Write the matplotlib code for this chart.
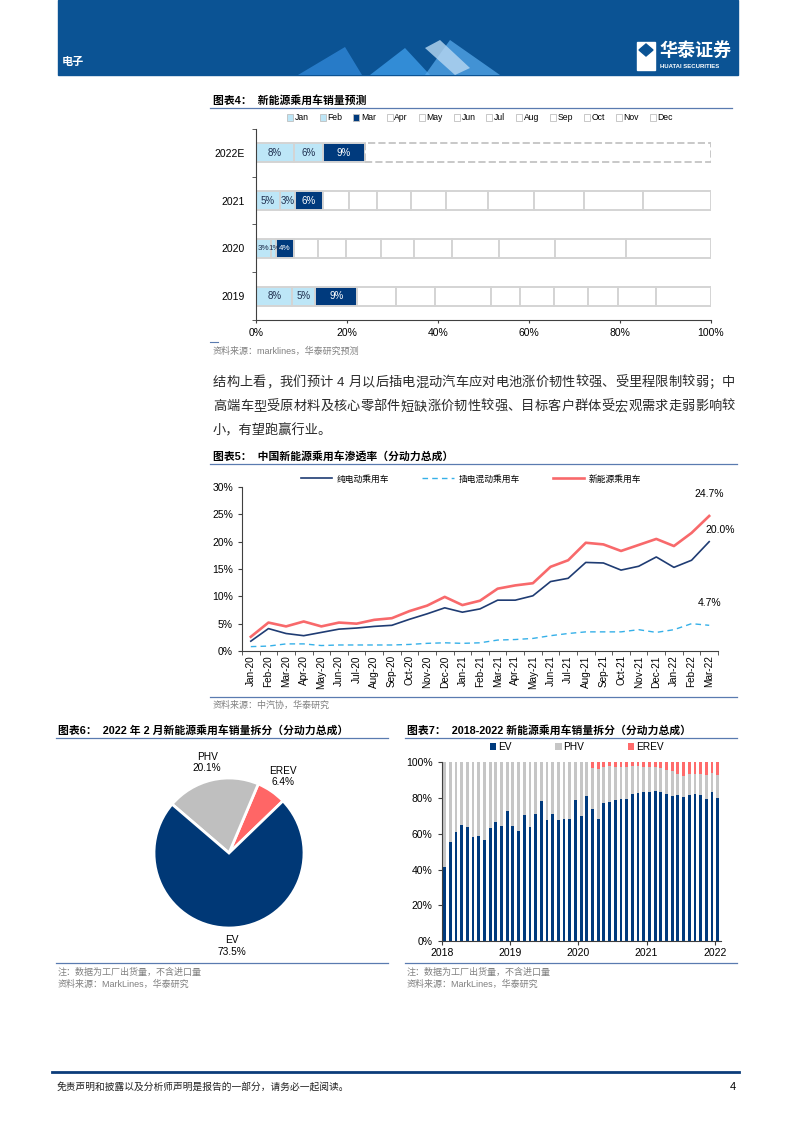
import matplotlib
matplotlib.use('Agg')
import matplotlib.pyplot as plt
from matplotlib.patches import Rectangle, Polygon, Patch
from matplotlib.lines import Line2D
from matplotlib.ticker import FuncFormatter
import numpy as np

plt.rcParams['font.family'] = ['Liberation Sans', 'Noto Sans CJK SC', 'DejaVu Sans']

# ============================================================
# 图表4: 新能源乘用车销量预测 (各月占全年比例, %)
years4 = ['2019', '2020', '2021', '2022E']
months = ['Jan', 'Feb', 'Mar', 'Apr', 'May', 'Jun', 'Jul', 'Aug', 'Sep', 'Oct', 'Nov', 'Dec']
share_2019 = [8.0, 5.0, 9.3, 8.5, 8.6, 12.3, 6.3, 7.6, 7.4, 6.6, 8.4, 12.0]
share_2020 = [3.4, 1.1, 3.8, 5.3, 6.2, 7.6, 7.4, 8.3, 10.3, 12.4, 15.6, 18.6]
share_2021 = [5.3, 3.2, 6.3, 5.7, 6.2, 7.3, 7.7, 9.2, 10.3, 10.9, 12.9, 15.0]
share_2022e = [8.4, 6.4, 9.1]

# 图表5: 中国新能源乘用车渗透率 (%)
months5 = ['Jan-20', 'Feb-20', 'Mar-20', 'Apr-20', 'May-20', 'Jun-20', 'Jul-20', 'Aug-20', 'Sep-20',
           'Oct-20', 'Nov-20', 'Dec-20', 'Jan-21', 'Feb-21', 'Mar-21', 'Apr-21', 'May-21', 'Jun-21',
           'Jul-21', 'Aug-21', 'Sep-21', 'Oct-21', 'Nov-21', 'Dec-21', 'Jan-22', 'Feb-22', 'Mar-22']
bev_pen = [1.8, 4.1, 3.2, 2.8, 3.4, 4.0, 4.2, 4.5, 4.7, 5.8, 6.8, 7.9, 7.1, 7.7, 9.3, 9.3, 10.1, 12.7,
           13.3, 16.2, 16.1, 14.8, 15.5, 17.2, 15.3, 16.6, 20.0]
phev_pen = [0.8, 0.9, 1.3, 1.3, 1.0, 1.1, 1.1, 1.1, 1.1, 1.2, 1.4, 1.5, 1.4, 1.5, 2.0, 2.1, 2.3, 2.8,
            3.2, 3.5, 3.5, 3.5, 3.9, 3.4, 3.9, 5.0, 4.7]
nev_pen = [2.6, 5.2, 4.5, 5.4, 4.5, 5.2, 5.0, 5.7, 6.0, 7.3, 8.3, 9.9, 8.4, 9.2, 11.4, 12.0, 12.4, 15.4,
           16.6, 19.8, 19.5, 18.3, 19.4, 20.5, 19.2, 21.6, 24.7]

# 图表6: 2022年2月 销量拆分 (%)
pie_names = ['EREV', 'PHV', 'EV']
pie_vals = [6.4, 20.1, 73.5]

# 图表7: 2018-2022 销量拆分 (月度, %)
year_ticks7 = ['2018', '2019', '2020', '2021', '2022']
ev_share = [41.6, 55.2, 61.2, 64.9, 63.8, 58.0, 58.8, 56.5, 63.2, 66.6, 64.4, 72.8,
            64.4, 61.6, 70.3, 64.0, 70.9, 78.4, 67.7, 71.1, 67.7, 68.3, 68.3, 78.9,
            70.1, 81.2, 73.7, 68.1, 77.4, 78.0, 78.7, 79.5, 79.5, 82.5, 83.0, 83.4,
            83.4, 84.0, 83.2, 82.1, 81.3, 81.9, 80.6, 81.9, 82.5, 81.7, 79.5, 83.4,
            80.0]
phv_share = [58.4, 44.8, 38.8, 35.1, 36.2, 42.0, 41.2, 43.5, 36.8, 33.4, 35.6, 27.2,
             35.6, 38.4, 29.7, 36.0, 29.1, 21.6, 32.3, 28.9, 32.3, 31.7, 31.7, 21.1,
             29.9, 18.8, 23.3, 28.0, 20.2, 20.1, 18.9, 18.1, 18.1, 15.4, 14.9, 14.2,
             13.8, 13.6, 13.6, 13.6, 14.0, 11.6, 11.9, 11.4, 11.2, 11.8, 13.4, 10.4,
             12.9]
erev_share = [0, 0, 0, 0, 0, 0, 0, 0, 0, 0, 0, 0,
              0, 0, 0, 0, 0, 0, 0, 0, 0, 0, 0, 0,
              0, 0, 3.0, 3.9, 2.4, 1.9, 2.4, 2.4, 2.4, 2.1, 2.1, 2.4,
              2.8, 2.4, 3.2, 4.3, 4.7, 6.5, 7.5, 6.7, 6.3, 6.5, 7.1, 6.2,
              7.1]
other_share = [0] * 47 + [0.4, 0]

para_lines = [
    '结构上看，我们预计 4 月以后插电混动汽车应对电池涨价韧性较强、受里程限制较弱；中',
    '高端车型受原材料及核心零部件短缺涨价韧性较强、目标客户群体受宏观需求走弱影响较',
    '小，有望跑赢行业。',
]

# ============================================================
W, H = 794, 1123
NAVY = '#003A7D'
LBLUE = '#BDE6F7'
GRAY_T = '#808080'
RULE = '#5A7BB0'

fig = plt.figure(figsize=(W / 100, H / 100), dpi=100)


def rect(x0, y0, x1, y1):
    return [x0 / W, 1 - y1 / H, (x1 - x0) / W, (y1 - y0) / H]


def ftext(x, y, s, **kw):
    kw.setdefault('va', 'center')
    return fig.text(x / W, 1 - y / H, s, **kw)


def hline(x0, x1, y, color=RULE, lw=0.9):
    fig.add_artist(Line2D([x0 / W, x1 / W], [1 - y / H, 1 - y / H], color=color, lw=lw))


def justify(y, s, x0, x1, size):
    r = fig.canvas.get_renderer()
    toks, widths = [], []
    for ch in s:
        if ch == ' ':
            toks.append(None)
            widths.append(size * 100 / 72 * 0.3)
        else:
            t = ftext(0, y, ch, fontsize=size, color='#2A2A2A')
            toks.append(t)
            widths.append(t.get_window_extent(r).width)
    gap = (x1 - x0 - sum(widths)) / (len(s) - 1)
    x = x0
    for t, w in zip(toks, widths):
        if t is not None:
            t.set_x(x / W)
        x += w + gap


# ----- 页眉 -----
fig.add_artist(Rectangle((58 / W, 1 - 75 / H), 680 / W, 75 / H, color='#0B5394',
                         transform=fig.transFigure, zorder=0))
for pts, c, a in [([(298, 75), (345, 47), (362, 75)], '#2F86D6', 0.8),
                  ([(370, 75), (405, 48), (430, 75)], '#3C9BE8', 0.8),
                  ([(425, 75), (450, 40), (500, 75)], '#5AAEF0', 0.7),
                  ([(425, 48), (440, 40), (470, 68), (455, 75)], '#B8D8F2', 0.8)]:
    fig.add_artist(Polygon([(x / W, 1 - y / H) for x, y in pts], closed=True, color=c,
                           alpha=a, transform=fig.transFigure, lw=0))
ftext(62, 62, '电子', fontsize=8, color='white', fontweight='bold')
fig.add_artist(Rectangle((637 / W, 1 - 70 / H), 18 / W, 28 / H, color='white',
                         transform=fig.transFigure))
fig.add_artist(Polygon([(x / W, 1 - y / H) for x, y in [(639, 50), (646, 44), (653, 50), (646, 56)]],
                       color='#0B5394', transform=fig.transFigure))
ftext(659, 50, '华泰证券', fontsize=13, color='white', fontweight='bold', family=['Noto Sans CJK SC'])
ftext(660, 66, 'HUATAI SECURITIES', fontsize=4.3, color='white', fontweight='bold')

# ----- 图表4 -----
ftext(213, 100, '图表4：  新能源乘用车销量预测', fontsize=7.8, fontweight='bold')
hline(210, 732, 108)
ax4 = fig.add_axes(rect(256, 129, 711, 320))
rows4 = [share_2019, share_2020, share_2021, share_2022e]
mcolors = [LBLUE, LBLUE, NAVY] + ['white'] * 9
for i, vals in enumerate(rows4):
    left = 0
    for m, v in enumerate(vals):
        ax4.barh(i, v, left=left, height=0.4, color=mcolors[m], edgecolor='#D4D4D4', lw=1.4)
        if m < 3:
            # 2020年前三月份额很小, 标签挤在一起
            ax4.text(left + v / 2, i, f'{v:.0f}%', ha='center', va='center',
                     fontsize=5.8 if i == 1 else 7,
                     color='white' if m == 2 else '#1F2F4F')
        left += v
    if len(vals) < 12:
        ax4.barh(i, 100 - left, left=left, height=0.4, color='white', edgecolor='#C8C8C8',
                 lw=1.4, ls='--')
ax4.set_xlim(0, 100)
ax4.set_ylim(-0.5, 3.5)
ax4.set_yticks(range(4))
ax4.set_yticklabels(years4, fontsize=7.5)
ax4.set_yticks([-0.5, 0.5, 1.5, 2.5, 3.5], minor=True)
ax4.tick_params(axis='y', which='major', length=0, pad=8)
ax4.tick_params(axis='y', which='minor', length=3, direction='out', color='#404040')
ax4.set_xticks(range(0, 101, 20))
ax4.xaxis.set_major_formatter(FuncFormatter(lambda v, p: f'{v:.0f}%'))
ax4.tick_params(axis='x', labelsize=7.5, length=2, color='#404040')
for s in ['top', 'right']:
    ax4.spines[s].set_visible(False)
for s in ['left', 'bottom']:
    ax4.spines[s].set_color('#404040')
    ax4.spines[s].set_linewidth(0.8)
handles4 = [Patch(facecolor=c, edgecolor='#BFBFBF', lw=0.6) for c in mcolors]
fig.legend(handles4, months, loc='center', bbox_to_anchor=(480 / W, 1 - 118 / H), ncol=12,
           fontsize=6.2, frameon=False, handlelength=0.7, handleheight=0.7,
           handletextpad=0.2, columnspacing=1.25)
hline(210, 218, 342, lw=0.8)
ftext(213, 351, '资料来源：marklines，华泰研究预测', fontsize=6.5, color=GRAY_T)

# ----- 正文 -----
justify(383, para_lines[0], 213, 735, 9.5)
justify(407, para_lines[1], 213, 735, 9.5)
ftext(213, 431, para_lines[2], fontsize=9.5, color='#2A2A2A')

# ----- 图表5 -----
ftext(213, 456, '图表5：  中国新能源乘用车渗透率（分动力总成）', fontsize=7.8, fontweight='bold')
hline(210, 737, 464)
ax5 = fig.add_axes(rect(242, 487, 718, 651))
x5 = np.arange(len(months5))
ax5.plot(x5, bev_pen, color='#1F3C73', lw=1.2, label='纯电动乘用车')
ax5.plot(x5, phev_pen, color='#35B0E8', lw=1.0, ls=(0, (4, 3)), label='插电混动乘用车')
ax5.plot(x5, nev_pen, color='#F8696B', lw=1.9, label='新能源乘用车')
ax5.set_xlim(-0.5, len(months5) - 0.5)
ax5.set_ylim(0, 30)
ax5.set_yticks(range(0, 31, 5))
ax5.yaxis.set_major_formatter(FuncFormatter(lambda v, p: f'{v:.0f}%'))
ax5.set_xticks(x5)
ax5.set_xticklabels(months5, rotation=90, fontsize=7.2)
ax5.set_xticks(np.arange(-0.5, len(months5)), minor=True)
ax5.tick_params(axis='x', which='major', length=0, pad=3)
ax5.tick_params(axis='x', which='minor', length=3, color='#404040')
ax5.tick_params(axis='y', labelsize=7.5, length=3, color='#404040')
for s in ['top', 'right']:
    ax5.spines[s].set_visible(False)
for s in ['left', 'bottom']:
    ax5.spines[s].set_color('#404040')
    ax5.spines[s].set_linewidth(0.8)
last = len(months5) - 1
ax5.annotate(f'{nev_pen[last]:.1f}%', (last, nev_pen[last]), xytext=(0, 14),
             textcoords='offset points', ha='center', fontsize=7.5)
ax5.annotate(f'{bev_pen[last]:.1f}%', (last, bev_pen[last]), xytext=(8, 6),
             textcoords='offset points', ha='center', fontsize=7.5)
ax5.annotate(f'{phev_pen[last]:.1f}%', (last, phev_pen[last]), xytext=(0, 14),
             textcoords='offset points', ha='center', fontsize=7.5)
fig.legend(*ax5.get_legend_handles_labels(), loc='center', bbox_to_anchor=(471 / W, 1 - 479 / H),
           ncol=3, fontsize=6.3, frameon=False, handlelength=3.6, columnspacing=3.8,
           handletextpad=0.5)
hline(210, 737, 697)
ftext(213, 705, '资料来源：中汽协，华泰研究', fontsize=6.5, color=GRAY_T)

# ----- 图表6 -----
ftext(58, 730, '图表6：  2022 年 2 月新能源乘用车销量拆分（分动力总成）', fontsize=7.8, fontweight='bold')
hline(56, 388, 738)
ax6 = fig.add_axes(rect(119, 743, 339, 963))
wedges, _ = ax6.pie(pie_vals, colors=['#FF6666', '#BFBFBF', '#003876'], startangle=44,
                    counterclock=True, radius=1,
                    wedgeprops=dict(edgecolor='white', linewidth=2))
for w, name, v in zip(wedges, pie_names, pie_vals):
    ang = np.deg2rad((w.theta1 + w.theta2) / 2)
    ax6.text(1.27 * np.cos(ang), 1.24 * np.sin(ang), f'{name}\n{v}%', ha='center', va='center',
             fontsize=7.3, linespacing=1.15)
ax6.set_xlim(-110 / 75, 110 / 75)
ax6.set_ylim(-110 / 75, 110 / 75)
ax6.set_aspect('equal')
ax6.axis('off')
hline(56, 388, 963)
ftext(58, 972, '注：数据为工厂出货量，不含进口量', fontsize=6.5, color=GRAY_T)
ftext(58, 984, '资料来源：MarkLines，华泰研究', fontsize=6.5, color=GRAY_T)

# ----- 图表7 -----
ftext(407, 730, '图表7：  2018-2022 新能源乘用车销量拆分（分动力总成）', fontsize=7.8, fontweight='bold')
hline(405, 737, 738)
ax7 = fig.add_axes(rect(441.7, 762.3, 720.6, 941))
x7 = np.arange(len(ev_share))
ev = np.array(ev_share)
phv = np.array(phv_share)
erev = np.array(erev_share)
ax7.bar(x7, ev, width=0.5, color=NAVY, label='EV')
ax7.bar(x7, phv, width=0.5, bottom=ev, color='#C6C6C6', label='PHV')
ax7.bar(x7, erev, width=0.5, bottom=ev + phv, color='#FF6B6B', label='EREV')
ax7.bar(x7, other_share, width=0.5, bottom=ev + phv + erev, color='#00B0F0')
ax7.set_xlim(-0.5, len(ev_share) - 0.5)
ax7.set_ylim(0, 100)
ax7.set_yticks(range(0, 101, 20))
ax7.yaxis.set_major_formatter(FuncFormatter(lambda v, p: f'{v:.0f}%'))
ax7.set_xticks([-0.5, 11.5, 23.5, 35.5, 47.5])
ax7.set_xticklabels(year_ticks7, fontsize=7.5)
ax7.tick_params(axis='x', length=3, color='#404040', pad=2)
ax7.tick_params(axis='y', labelsize=7.5, length=3, color='#404040')
for s in ['top', 'right']:
    ax7.spines[s].set_visible(False)
for s in ['left', 'bottom']:
    ax7.spines[s].set_color('#404040')
    ax7.spines[s].set_linewidth(0.8)
h7, l7 = ax7.get_legend_handles_labels()
fig.legend(h7[:3], l7[:3], loc='center', bbox_to_anchor=(577 / W, 1 - 747 / H), ncol=3,
           fontsize=7.3, frameon=False, handlelength=0.6, handleheight=0.6,
           handletextpad=0.2, columnspacing=4.3)
hline(405, 737, 963)
ftext(407, 972, '注：数据为工厂出货量，不含进口量', fontsize=6.5, color=GRAY_T)
ftext(407, 984, '资料来源：MarkLines，华泰研究', fontsize=6.5, color=GRAY_T)

# ----- 页脚 -----
hline(52, 739, 1072, color='#0B3C7A', lw=2)
ftext(57, 1087, '免责声明和披露以及分析师声明是报告的一部分，请务必一起阅读。', fontsize=7,
      style='italic', color='#222222')
ftext(736, 1087, '4', fontsize=8, ha='right')

fig.savefig('out.png', dpi=100)
